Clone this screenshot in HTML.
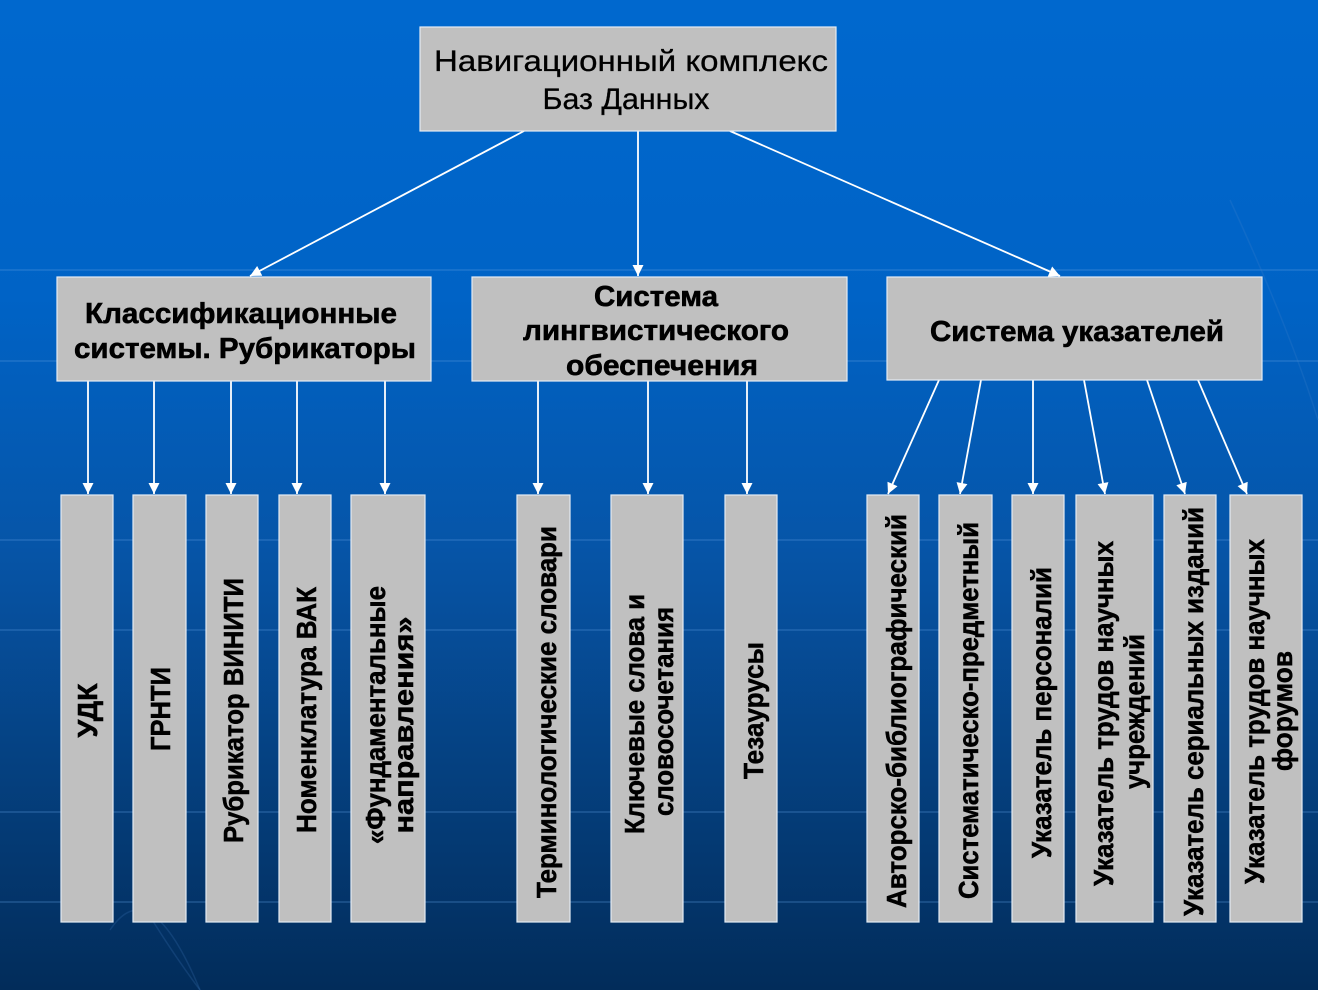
<!DOCTYPE html>
<html><head><meta charset="utf-8"><style>
html,body{margin:0;padding:0;background:#fff;}
svg{display:block;}
text{font-family:"Liberation Sans",Arial,sans-serif;fill:#000;}
.b{font-weight:bold;font-size:29px;stroke:#000;stroke-width:0.6;}
.r{font-size:30px;stroke:#000;stroke-width:0.3;}
.v{font-weight:bold;font-size:28px;stroke:#000;stroke-width:0.55;}
</style></head><body>
<svg width="1323" height="995" viewBox="0 0 1323 995" xmlns="http://www.w3.org/2000/svg">
<defs>
<linearGradient id="bg" x1="0" y1="0" x2="0" y2="1">
<stop offset="0" stop-color="#0068ce"/>
<stop offset="0.3" stop-color="#0063c6"/>
<stop offset="0.55" stop-color="#0655a8"/>
<stop offset="0.78" stop-color="#05407f"/>
<stop offset="1" stop-color="#022c5a"/>
</linearGradient>
<marker id="ah" viewBox="0 0 10 10" refX="10" refY="5" markerUnits="userSpaceOnUse" markerWidth="13" markerHeight="11" orient="auto">
<path d="M0,0 L10,5 L0,10 z" fill="#fff"/>
</marker>
</defs>
<rect x="0" y="0" width="1318" height="990" fill="url(#bg)"/>
<g stroke="#5a9ae0" stroke-opacity="0.25" stroke-width="2">
<line x1="0" y1="270" x2="1318" y2="270"/>
<line x1="0" y1="361" x2="1318" y2="361"/>
<line x1="0" y1="540" x2="1318" y2="540"/>
<line x1="0" y1="630" x2="1318" y2="630"/>
<line x1="0" y1="812" x2="1318" y2="812"/>
<line x1="0" y1="902" x2="1318" y2="902"/>
</g>
<g stroke="#4a86cc" stroke-opacity="0.2" stroke-width="1.5" fill="none">
<path d="M110,930 Q150,870 200,990"/>
<path d="M140,900 Q170,950 200,990"/>
<path d="M1230,200 Q1290,330 1318,420"/>
</g>

<!-- connectors -->
<g stroke="#fff" stroke-width="1.8" fill="none" marker-end="url(#ah)">
<line x1="524" y1="131" x2="250" y2="276"/>
<line x1="638" y1="131" x2="638" y2="276"/>
<line x1="730" y1="131" x2="1060" y2="276"/>

<line x1="88" y1="381" x2="88" y2="494"/>
<line x1="154" y1="381" x2="154" y2="494"/>
<line x1="231" y1="381" x2="231" y2="494"/>
<line x1="297" y1="381" x2="297" y2="494"/>
<line x1="385" y1="381" x2="385" y2="494"/>

<line x1="538" y1="381" x2="538" y2="494"/>
<line x1="648" y1="381" x2="648" y2="494"/>
<line x1="747" y1="381" x2="747" y2="494"/>

<line x1="939" y1="380" x2="888" y2="494"/>
<line x1="981" y1="380" x2="960" y2="494"/>
<line x1="1033" y1="380" x2="1033" y2="494"/>
<line x1="1084" y1="380" x2="1105" y2="494"/>
<line x1="1147" y1="380" x2="1185" y2="494"/>
<line x1="1198" y1="380" x2="1247" y2="494"/>
</g>

<!-- boxes -->
<g fill="#c0c0c0" stroke="#e4ecf4" stroke-width="1.2">
<rect x="420" y="27" width="416" height="104"/>
<rect x="57" y="277" width="374" height="104"/>
<rect x="472" y="277" width="375" height="104"/>
<rect x="887" y="277" width="375" height="103"/>

<rect x="61" y="495" width="52" height="427"/>
<rect x="133" y="495" width="53" height="427"/>
<rect x="206" y="495" width="52" height="427"/>
<rect x="279" y="495" width="52" height="427"/>
<rect x="351" y="495" width="74" height="427"/>

<rect x="517" y="495" width="53" height="427"/>
<rect x="611" y="495" width="72" height="427"/>
<rect x="725" y="495" width="52" height="427"/>

<rect x="867" y="495" width="52" height="427"/>
<rect x="939" y="495" width="53" height="427"/>
<rect x="1012" y="495" width="52" height="427"/>
<rect x="1076" y="495" width="77" height="427"/>
<rect x="1164" y="495" width="52" height="427"/>
<rect x="1230" y="495" width="72" height="427"/>
</g>

<!-- top text -->
<text class="r" x="631" y="71" text-anchor="middle" textLength="394" lengthAdjust="spacingAndGlyphs">Навигационный комплекс</text>
<text class="r" x="626" y="109" text-anchor="middle" textLength="167" lengthAdjust="spacingAndGlyphs">Баз Данных</text>

<!-- level 2 -->
<text class="b" x="241" y="323" text-anchor="middle" textLength="312" lengthAdjust="spacingAndGlyphs">Классификационные</text>
<text class="b" x="245" y="358" text-anchor="middle" textLength="342" lengthAdjust="spacingAndGlyphs">системы. Рубрикаторы</text>
<text class="b" x="656" y="306" text-anchor="middle" textLength="124" lengthAdjust="spacingAndGlyphs">Система</text>
<text class="b" x="656" y="340" text-anchor="middle" textLength="266" lengthAdjust="spacingAndGlyphs">лингвистического</text>
<text class="b" x="662" y="375" text-anchor="middle" textLength="192" lengthAdjust="spacingAndGlyphs">обеспечения</text>
<text class="b" x="1077" y="341" text-anchor="middle" textLength="294" lengthAdjust="spacingAndGlyphs">Система указателей</text>

<!-- vertical texts -->
<text class="v" transform="translate(97,710.5) rotate(-90)" text-anchor="middle" textLength="54" lengthAdjust="spacingAndGlyphs">УДК</text>
<text class="v" transform="translate(170,709) rotate(-90)" text-anchor="middle" textLength="84" lengthAdjust="spacingAndGlyphs">ГРНТИ</text>
<text class="v" transform="translate(243,710.5) rotate(-90)" text-anchor="middle" textLength="265" lengthAdjust="spacingAndGlyphs">Рубрикатор ВИНИТИ</text>
<text class="v" transform="translate(316,710) rotate(-90)" text-anchor="middle" textLength="246" lengthAdjust="spacingAndGlyphs">Номенклатура ВАК</text>
<text class="v" transform="translate(385,715) rotate(-90)" text-anchor="middle" textLength="258" lengthAdjust="spacingAndGlyphs">«Фундаментальные</text>
<text class="v" transform="translate(413,725) rotate(-90)" text-anchor="middle" textLength="217" lengthAdjust="spacingAndGlyphs">направления»</text>

<text class="v" transform="translate(556,712) rotate(-90)" text-anchor="middle" textLength="372" lengthAdjust="spacingAndGlyphs">Терминологические словари</text>
<text class="v" transform="translate(644,714) rotate(-90)" text-anchor="middle" textLength="240" lengthAdjust="spacingAndGlyphs">Ключевые слова и</text>
<text class="v" transform="translate(673,711.5) rotate(-90)" text-anchor="middle" textLength="209" lengthAdjust="spacingAndGlyphs">словосочетания</text>
<text class="v" transform="translate(763,710.5) rotate(-90)" text-anchor="middle" textLength="137" lengthAdjust="spacingAndGlyphs">Тезаурусы</text>

<text class="v" transform="translate(906,711) rotate(-90)" text-anchor="middle" textLength="394" lengthAdjust="spacingAndGlyphs">Авторско-библиографический</text>
<text class="v" transform="translate(978,710.5) rotate(-90)" text-anchor="middle" textLength="377" lengthAdjust="spacingAndGlyphs">Систематическо-предметный</text>
<text class="v" transform="translate(1051,712.5) rotate(-90)" text-anchor="middle" textLength="291" lengthAdjust="spacingAndGlyphs">Указатель персоналий</text>
<text class="v" transform="translate(1113,713.5) rotate(-90)" text-anchor="middle" textLength="345" lengthAdjust="spacingAndGlyphs">Указатель трудов научных</text>
<text class="v" transform="translate(1144,711.5) rotate(-90)" text-anchor="middle" textLength="155" lengthAdjust="spacingAndGlyphs">учреждений</text>
<text class="v" transform="translate(1203,711.5) rotate(-90)" text-anchor="middle" textLength="409" lengthAdjust="spacingAndGlyphs">Указатель сериальных изданий</text>
<text class="v" transform="translate(1264,711.5) rotate(-90)" text-anchor="middle" textLength="345" lengthAdjust="spacingAndGlyphs">Указатель трудов научных</text>
<text class="v" transform="translate(1292,711) rotate(-90)" text-anchor="middle" textLength="120" lengthAdjust="spacingAndGlyphs">форумов</text>
</svg>
</body></html>
